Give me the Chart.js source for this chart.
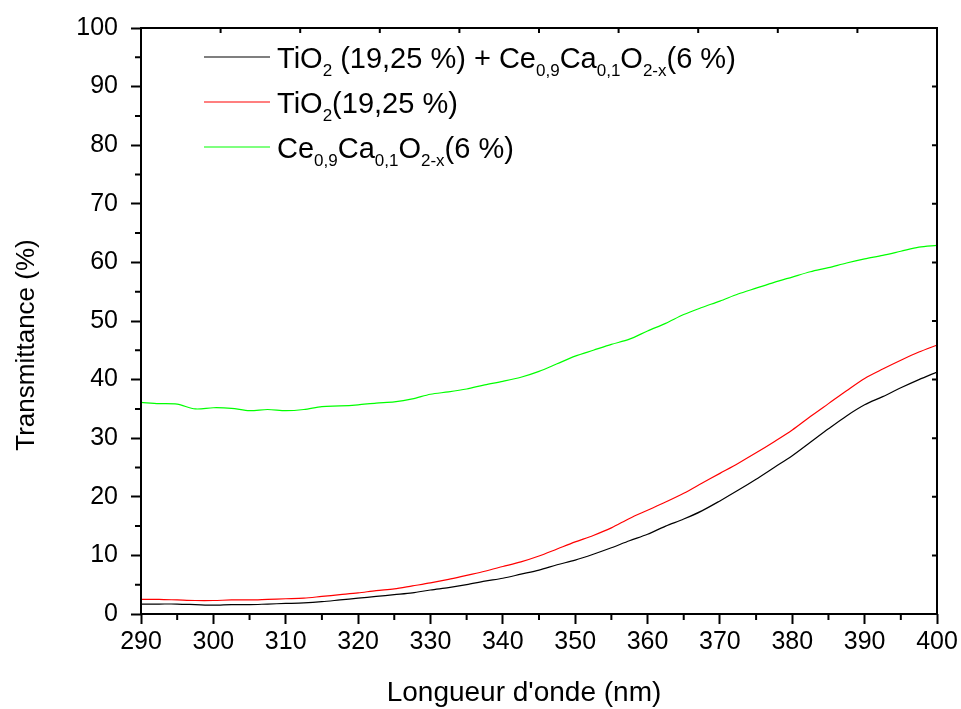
<!DOCTYPE html>
<html>
<head>
<meta charset="utf-8">
<title>Transmittance</title>
<script src="https://cdn.jsdelivr.net/npm/chart.js@4.4.1/dist/chart.umd.min.js"></script>
<style>
  html, body { margin: 0; padding: 0; background: #fff; }
  #wrap { width: 961px; height: 709px; }
</style>
</head>
<body>
<div id="wrap"><canvas id="chart" width="961" height="709"></canvas></div>
<script>
// wavelength (nm)
const wavelengths = [290, 292.5, 295, 297.5, 300, 302.5, 305, 307.5, 310, 312.5, 315, 317.5, 320, 322.5, 325, 327.5,
    330, 332.5, 335, 337.5, 340, 342.5, 345, 347.5, 350, 352.5, 355, 357.5, 360, 362.5, 365, 367.5,
    370, 372.5, 375, 377.5, 380, 382.5, 385, 387.5, 390, 392.5, 395, 397.5, 400];

// TiO2 (19,25 %) + Ce0,9Ca0,1O2-x (6 %)
const mixValues = [1.7, 1.7, 1.7, 1.6, 1.5, 1.6, 1.6, 1.7, 1.8, 1.9, 2.1, 2.4, 2.7, 3.0, 3.3, 3.6,
    4.1, 4.5, 5.0, 5.6, 6.1, 6.8, 7.5, 8.4, 9.2, 10.2, 11.3, 12.5, 13.6, 15.0, 16.2, 17.6,
    19.3, 21.1, 23.0, 25.0, 27.0, 29.3, 31.6, 33.8, 35.7, 37.1, 38.6, 40.0, 41.3];

// TiO2 (19,25 %)
const tio2Values = [2.5, 2.5, 2.4, 2.3, 2.3, 2.4, 2.4, 2.5, 2.6, 2.7, 3.0, 3.3, 3.6, 4.0, 4.3, 4.8,
    5.3, 5.9, 6.6, 7.3, 8.1, 8.9, 9.9, 11.1, 12.3, 13.4, 14.7, 16.3, 17.7, 19.1, 20.6, 22.3,
    24.0, 25.7, 27.5, 29.4, 31.4, 33.7, 35.9, 38.1, 40.2, 41.8, 43.3, 44.7, 45.9];

// Ce0,9Ca0,1O2-x (6 %)
const ceriaValues = [36.1, 35.9, 35.8, 35.0, 35.2, 35.1, 34.7, 34.9, 34.7, 34.9, 35.4, 35.5, 35.7, 36.0, 36.2, 36.7,
    37.5, 37.9, 38.4, 39.1, 39.7, 40.4, 41.4, 42.7, 44.0, 45.0, 46.0, 46.9, 48.3, 49.6, 51.1, 52.3,
    53.4, 54.6, 55.6, 56.6, 57.5, 58.4, 59.1, 59.9, 60.6, 61.2, 61.9, 62.6, 62.9];

// labels, _{..} = subscript
const seriesLabels = [
    'TiO_{2} (19,25 %) + Ce_{0,9}Ca_{0,1}O_{2-x}(6 %)',
    'TiO_{2}(19,25 %)',
    'Ce_{0,9}Ca_{0,1}O_{2-x}(6 %)'
];
const seriesColors = ['#000000', '#ff0000', '#00ff00'];
const seriesValues = [mixValues, tio2Values, ceriaValues];

const xTicks = [290, 300, 310, 320, 330, 340, 350, 360, 370, 380, 390, 400];
const yTicks = [0, 10, 20, 30, 40, 50, 60, 70, 80, 90, 100];

const FONT = "'Liberation Sans', Arial, Helvetica, sans-serif";

function toPoints(values) {
    return wavelengths.map((w, i) => ({ x: w, y: values[i] }));
}

function parseLabel(text) {
    const parts = [];
    const re = /_\{([^}]*)\}/g;
    let last = 0, m;
    while ((m = re.exec(text)) !== null) {
        if (m.index > last) parts.push({ t: text.slice(last, m.index), sub: false });
        parts.push({ t: m[1], sub: true });
        last = re.lastIndex;
    }
    if (last < text.length) parts.push({ t: text.slice(last), sub: false });
    return parts;
}

// frame, minor / inner ticks, axis titles and legend
const decorations = {
    id: 'decorations',
    afterDraw(chart) {
        const { ctx, chartArea: a, scales } = chart;
        const x = scales.x, y = scales.y, xt = scales.xTop;
        ctx.save();
        ctx.strokeStyle = '#000';
        ctx.lineWidth = 2;
        ctx.strokeRect(a.left, a.top, a.right - a.left, a.bottom - a.top);

        ctx.beginPath();
        for (let v = 295; v < 400; v += 10) {
            const px = x.getPixelForValue(v);
            ctx.moveTo(px, a.bottom); ctx.lineTo(px, a.bottom + 6);
        }
        for (let v = 5; v < 100; v += 10) {
            const py = y.getPixelForValue(v);
            ctx.moveTo(a.left, py); ctx.lineTo(a.left - 6, py);
        }
        for (let v = 10; v < 100; v += 10) {
            const py = y.getPixelForValue(v);
            ctx.moveTo(a.right, py); ctx.lineTo(a.right - 5, py);
        }
        for (let i = 1; i < 10; i++) {
            const px = xt.getPixelForValue(i);
            ctx.moveTo(px, a.top); ctx.lineTo(px, a.top + 5);
        }
        ctx.stroke();

        // axis titles
        ctx.fillStyle = '#000';
        ctx.textAlign = 'center';
        ctx.textBaseline = 'middle';
        ctx.font = '28px ' + FONT;
        ctx.fillText("Longueur d'onde (nm)", (a.left + a.right) / 2 - 15, 693);
        ctx.font = '26px ' + FONT;
        ctx.save();
        ctx.translate(27, (a.top + a.bottom) / 2 + 24);
        ctx.rotate(-Math.PI / 2);
        ctx.fillText('Transmittance (%)', 0, 0);
        ctx.restore();

        // legend
        const lx = a.left + 63, ly = a.top + 29, rowH = 45;
        ctx.textAlign = 'left';
        ctx.textBaseline = 'alphabetic';
        chart.data.datasets.forEach((ds, i) => {
            const yy = ly + i * rowH;
            ctx.strokeStyle = ds.borderColor;
            ctx.lineWidth = 1.2;
            ctx.beginPath();
            ctx.moveTo(lx, yy); ctx.lineTo(lx + 66, yy);
            ctx.stroke();
            let tx = lx + 73;
            const base = yy + 11;
            parseLabel(seriesLabels[i]).forEach(p => {
                ctx.font = (p.sub ? '17px ' : '29px ') + FONT;
                ctx.fillText(p.t, tx, p.sub ? base + 8 : base);
                tx += ctx.measureText(p.t).width;
            });
        });
        ctx.restore();
    }
};

new Chart(document.getElementById('chart').getContext('2d'), {
    type: 'line',
    data: {
        datasets: seriesValues.map((vals, i) => ({
            label: seriesLabels[i],
            data: toPoints(vals),
            borderColor: seriesColors[i],
            backgroundColor: seriesColors[i],
            borderWidth: 1.2,
            pointRadius: 0,
            tension: 0.3,
            fill: false
        }))
    },
    options: {
        responsive: false,
        animation: false,
        events: [],
        layout: { padding: { top: 25, right: 24, left: 0, bottom: 0 } },
        plugins: {
            legend: { display: false },
            tooltip: { enabled: false }
        },
        scales: {
            x: {
                type: 'linear',
                position: 'bottom',
                min: 290,
                max: 400,
                afterBuildTicks: s => { s.ticks = xTicks.map(v => ({ value: v })); },
                afterFit: s => { s.height = 95; },
                border: { display: false },
                grid: { drawOnChartArea: false, drawTicks: true, tickLength: 10, tickWidth: 2, tickColor: '#000' },
                ticks: { color: '#000', font: { family: FONT, size: 25 }, padding: 3, maxRotation: 0, autoSkip: false }
            },
            xTop: {
                type: 'linear',
                position: 'top',
                display: false,
                min: 0,
                max: 10
            },
            y: {
                type: 'linear',
                position: 'left',
                min: 0,
                max: 100,
                afterBuildTicks: s => { s.ticks = yTicks.map(v => ({ value: v })); },
                afterFit: s => { s.width = 141; },
                border: { display: false },
                grid: { drawOnChartArea: false, drawTicks: true, tickLength: 10, tickWidth: 2, tickColor: '#000' },
                ticks: { color: '#000', font: { family: FONT, size: 25 }, padding: 13 }
            }
        }
    },
    plugins: [decorations]
});
</script>
</body>
</html>
